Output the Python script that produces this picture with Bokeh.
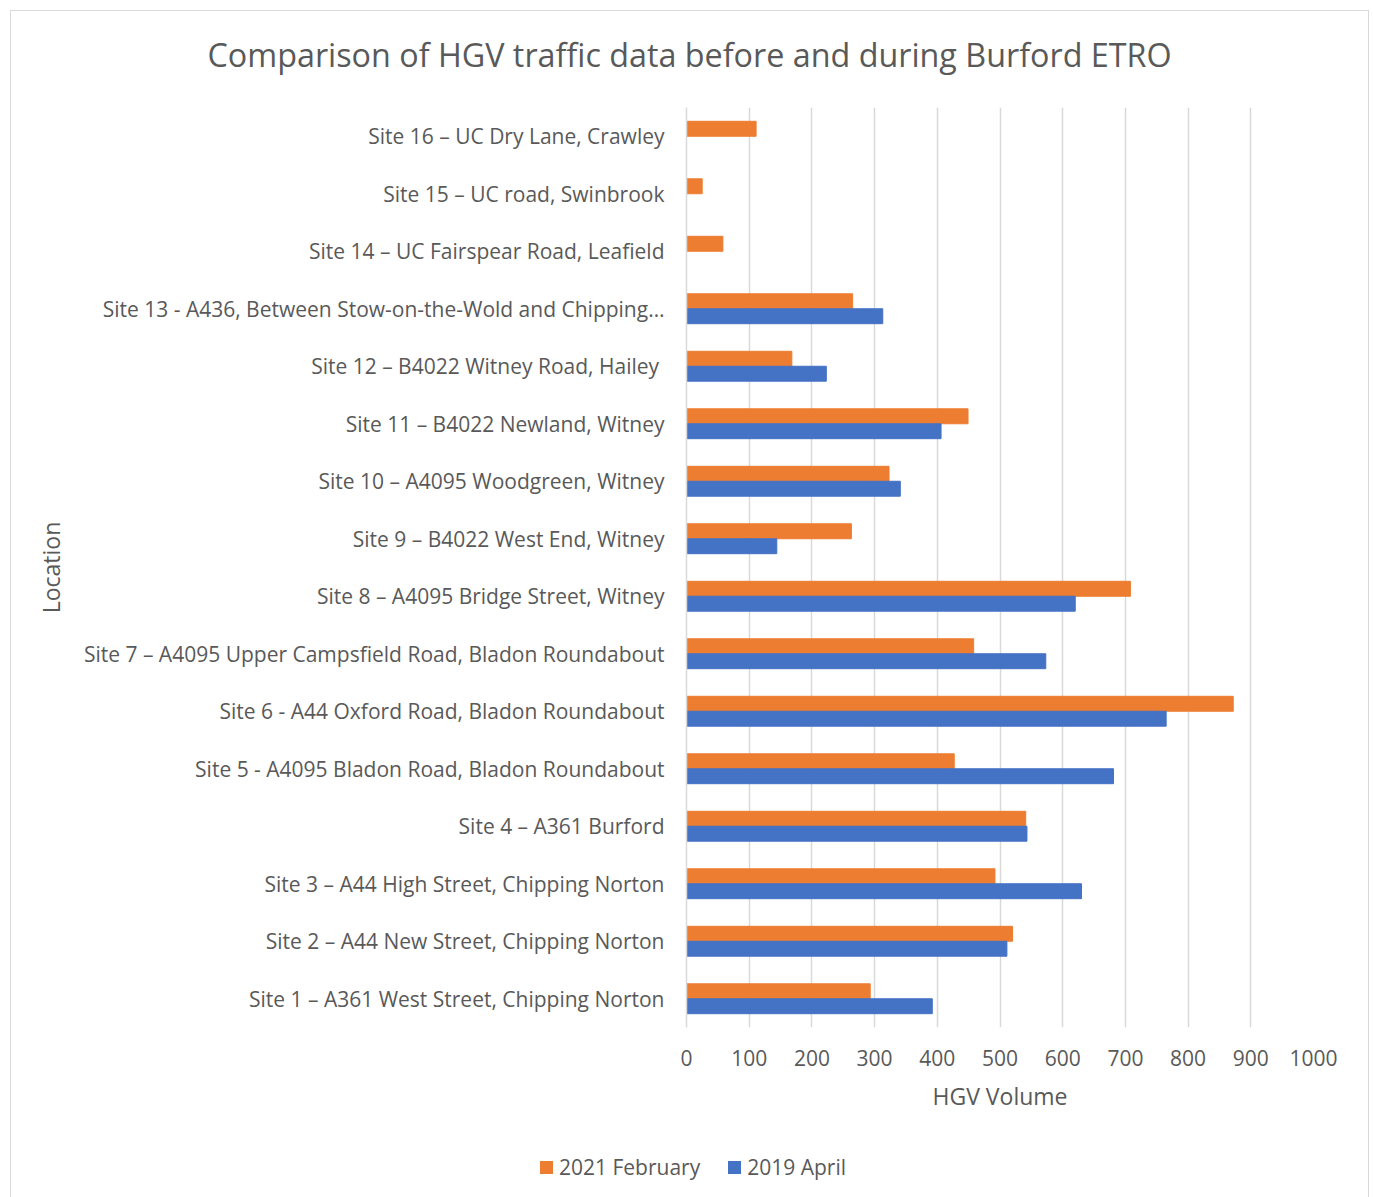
from bokeh.plotting import figure
from bokeh.layouts import column
from bokeh.models import (FactorRange, Range1d, FixedTicker, ColumnDataSource, Title, Div)
from bokeh.transform import dodge
from bokeh.embed import file_html
from bokeh.resources import INLINE

# ---- data ----
sites = [
    "Site 1 – A361 West Street, Chipping Norton",
    "Site 2 – A44 New Street, Chipping Norton",
    "Site 3 – A44 High Street, Chipping Norton",
    "Site 4 – A361 Burford",
    "Site 5 - A4095 Bladon Road, Bladon Roundabout",
    "Site 6 - A44 Oxford Road, Bladon Roundabout",
    "Site 7 – A4095 Upper Campsfield Road, Bladon Roundabout",
    "Site 8 – A4095 Bridge Street, Witney",
    "Site 9 – B4022 West End, Witney",
    "Site 10 – A4095 Woodgreen, Witney",
    "Site 11 – B4022 Newland, Witney",
    "Site 12 – B4022 Witney Road, Hailey ",
    "Site 13 - A436, Between Stow-on-the-Wold and Chipping…",
    "Site 14 – UC Fairspear Road, Leafield",
    "Site 15 – UC road, Swinbrook",
    "Site 16 – UC Dry Lane, Crawley",
]
feb_2021 = [293, 520, 492, 541, 427, 872, 458, 708, 263, 323, 449, 168, 265, 58, 25, 111]
apr_2019 = [392, 511, 630, 543, 681, 765, 573, 620, 144, 341, 406, 223, 313, 0, 0, 0]
x_ticks = [0, 100, 200, 300, 400, 500, 600, 700, 800, 900, 1000]

title_text = "Comparison of HGV traffic data before and during Burford ETRO"
series_names = ["2021 February", "2019 April"]

ORANGE = "#ED7D31"
BLUE = "#4472C4"
GREY = "#595959"
GRID = "#D9D9D9"
FONT = "Open Sans"
series_colors = [ORANGE, BLUE]

src = ColumnDataSource(dict(site=sites, feb=feb_2021, apr=apr_2019))

W = 1357
H_MAIN, H_LEG = 1126, 60
frame_left, frame_right, frame_top, frame_bottom = 675, 1302, 96, 1016

p = figure(
    width=W, height=H_MAIN,
    y_range=FactorRange(factors=sites, range_padding=0),
    x_range=Range1d(0, 1000),
    output_backend="svg", toolbar_location=None,
    min_border_left=frame_left, min_border_right=W - frame_right,
    min_border_top=frame_top, min_border_bottom=H_MAIN - frame_bottom,
    background_fill_color="white", border_fill_color="white",
)
p.outline_line_color = None

p.hbar(y=dodge("site", 0.13, range=p.y_range), right="feb", left=0, height=0.26,
       source=src, fill_color=ORANGE, line_color=ORANGE)
p.hbar(y=dodge("site", -0.13, range=p.y_range), right="apr", left=0, height=0.26,
       source=src, fill_color=BLUE, line_color=BLUE)

# axes
p.xaxis.ticker = FixedTicker(ticks=x_ticks)
p.xaxis.axis_line_color = None
p.xaxis.major_tick_line_color = None
p.xaxis.minor_tick_line_color = None
p.xaxis.major_label_text_font = FONT
p.xaxis.major_label_text_font_size = "21px"
p.xaxis.major_label_text_color = GREY
p.xaxis.major_label_standoff = 16
p.xaxis.axis_label = "HGV Volume"
p.xaxis.axis_label_text_font = FONT
p.xaxis.axis_label_text_font_size = "23px"
p.xaxis.axis_label_text_font_style = "normal"
p.xaxis.axis_label_text_color = GREY
p.xaxis.axis_label_standoff = 11

p.yaxis.axis_line_color = GRID
p.yaxis.axis_line_width = 1.5
p.yaxis.major_tick_line_color = None
p.yaxis.minor_tick_line_color = None
p.yaxis.major_label_text_font = FONT
p.yaxis.major_label_text_font_size = "21px"
p.yaxis.major_label_text_color = GREY
p.yaxis.major_label_standoff = 16
p.yaxis.axis_label = "Location"
p.yaxis.axis_label_text_font = FONT
p.yaxis.axis_label_text_font_size = "23px"
p.yaxis.axis_label_text_font_style = "normal"
p.yaxis.axis_label_text_color = GREY
p.yaxis.axis_label_standoff = 14

p.xgrid.grid_line_color = GRID
p.xgrid.grid_line_width = 1.5
p.ygrid.grid_line_color = None

# real title = the plot's own title (shifted left from the frame's left edge)
p.title.text = title_text
p.title.align = "left"
p.title.offset = -479
p.title.text_font = FONT
p.title.text_font_size = "32.3px"
p.title.text_font_style = "normal"
p.title.text_color = GREY
p.title.standoff = 0

# blank spacer title between the real title and the frame
p.add_layout(Title(text=" ", text_font_size="10px", standoff=19), "above")

# legend strip below the chart
sw = ('<span style="display:inline-block;width:13px;height:13px;background:{c};'
      'margin:0 6px 0 {m}px;"></span>')
items_html = "".join(sw.format(c=c, m=(0 if i == 0 else 28)) + f"<span>{n}</span>"
                     for i, (n, c) in enumerate(zip(series_names, series_colors)))
legend_div = Div(
    text=(f'<div style="display:flex;align-items:center;justify-content:center;'
          f'width:{W}px;height:{H_LEG}px;padding-left:7px;box-sizing:border-box;'
          f'font-family:\'{FONT}\';font-size:21px;color:{GREY};">{items_html}</div>'),
    width=W, height=H_LEG, margin=0,
)

page = column(p, legend_div, spacing=0)
page.styles = {"margin-left": "10px", "margin-top": "10px",
               "border": "1px solid #D9D9D9", "background-color": "white"}

open("out.html", "w").write(file_html(page, INLINE))
